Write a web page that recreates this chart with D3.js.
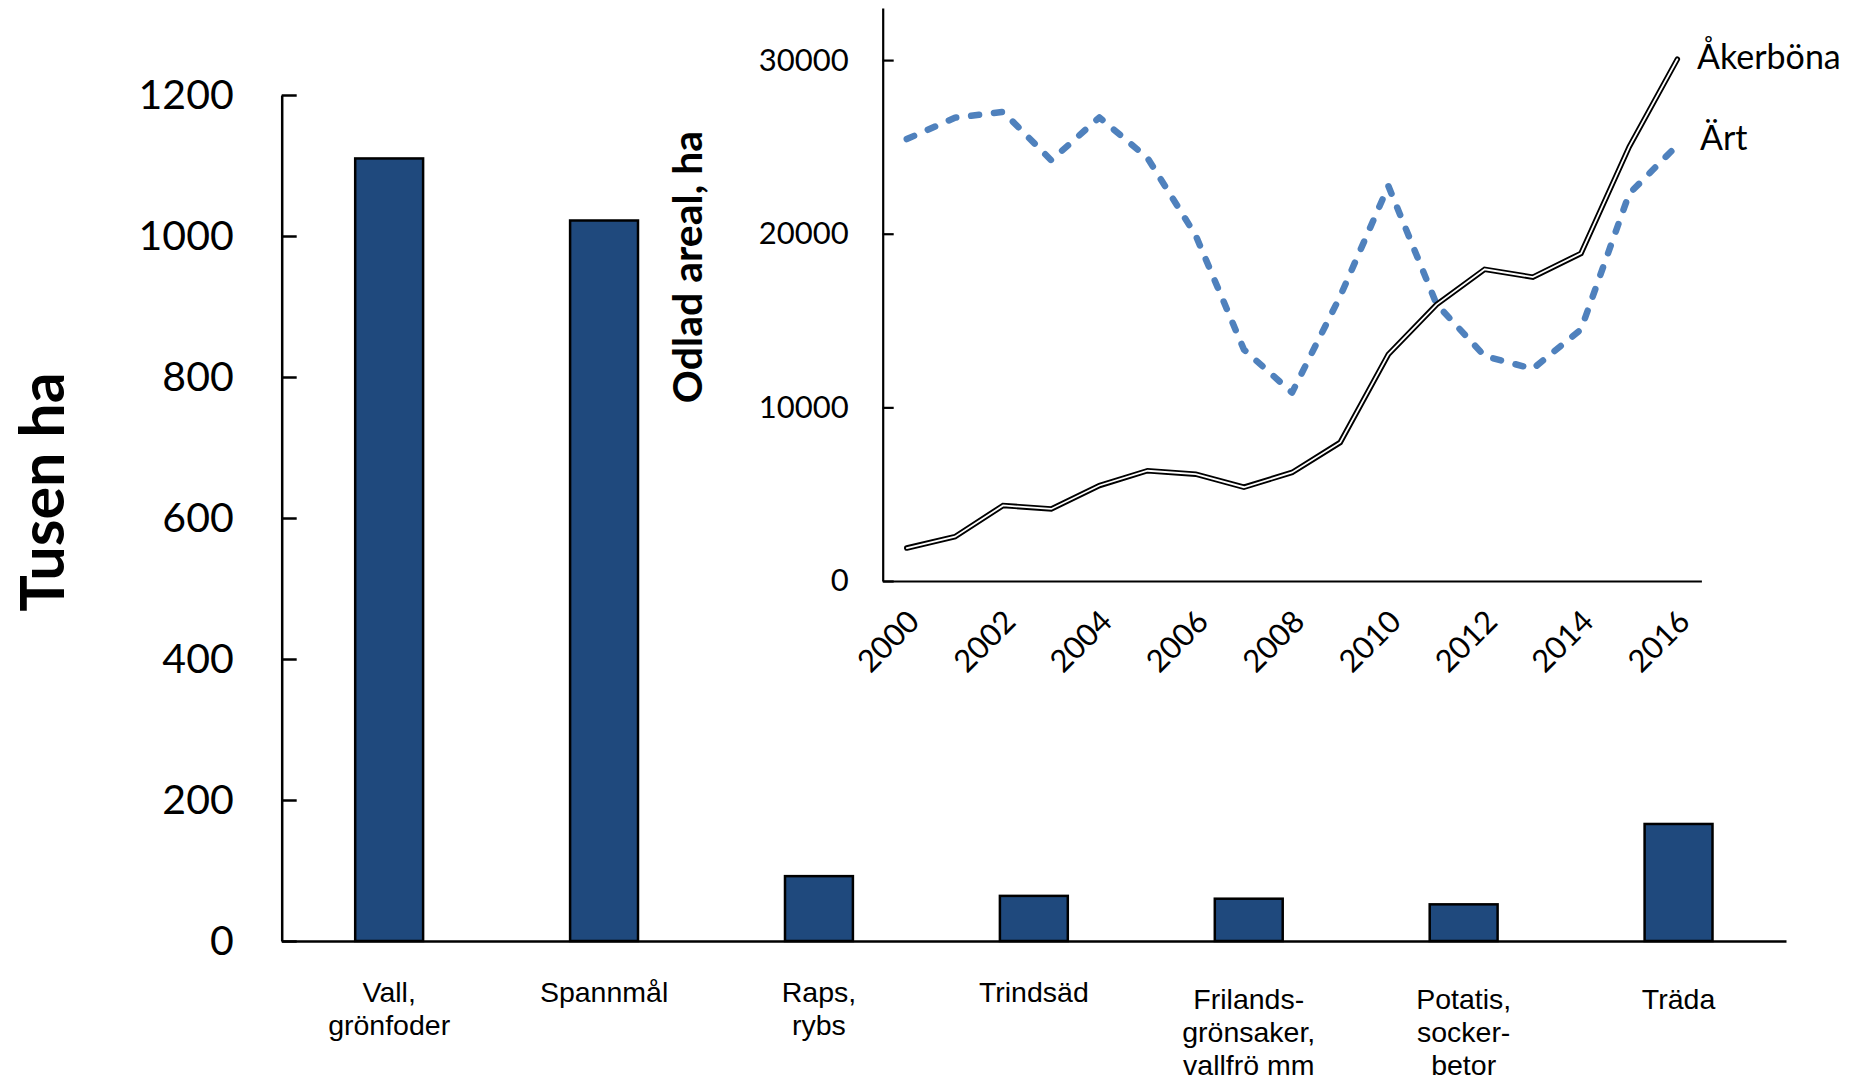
<!DOCTYPE html>
<html>
<head>
<meta charset="utf-8">
<script src="https://cdn.jsdelivr.net/npm/d3@7"></script>
<style>
  html, body { margin: 0; padding: 0; background: #ffffff; }
  svg { display: block; }
</style>
</head>
<body>
<svg id="chart" width="1858" height="1083"></svg>
<script>
// ---------- Data ----------
const categories = ["Vall,\ngrönfoder", "Spannmål", "Raps,\nrybs", "Trindsäd",
  "Frilands-\ngrönsaker,\nvallfrö mm", "Potatis,\nsocker-\nbetor", "Träda"];
const areaThousandHa = [1110, 1022, 92, 64, 60, 52, 166];
const mainTicks = [0, 200, 400, 600, 800, 1000, 1200];

const years = [2000, 2001, 2002, 2003, 2004, 2005, 2006, 2007, 2008, 2009,
  2010, 2011, 2012, 2013, 2014, 2015, 2016];
const akerbona = [1900, 2550, 4350, 4150, 5500, 6350, 6150, 5400, 6250, 7980,
  13050, 15920, 17950, 17500, 18870, 25000, 30050];
const art = [25450, 26680, 27020, 24230, 26700, 24360, 19900, 13330, 10850, 16400,
  22750, 15950, 12950, 12220, 14490, 22300, 25100];
const insetTicks = [0, 10000, 20000, 30000];
const yearLabels = [2000, 2002, 2004, 2006, 2008, 2010, 2012, 2014, 2016];
const seriesNames = ["Åkerböna", "Ärt"];

// ---------- Setup ----------
const svg = d3.select("#chart");
svg.append("rect").attr("width", 1858).attr("height", 1083).attr("fill", "#fff");

// ---------- Main bar chart ----------
const mainLeft = 281.7, mainRight = 1786, mainTop = 95, mainBottom = 941;
const xMain = d3.scaleBand().domain(categories).range([mainLeft, mainRight]).padding(0);
const yMain = d3.scaleLinear().domain([0, 1200]).range([mainBottom, mainTop]);
const barW = xMain.bandwidth() * 0.316;

const gMain = svg.append("g");

gMain.selectAll("rect.bar")
  .data(categories)
  .join("rect")
  .attr("class", "bar")
  .attr("x", d => xMain(d) + xMain.bandwidth() / 2 - barW / 2)
  .attr("y", (d, i) => yMain(areaThousandHa[i]))
  .attr("width", barW)
  .attr("height", (d, i) => yMain(0) - yMain(areaThousandHa[i]))
  .attr("fill", "#1F497D")
  .attr("stroke", "#000")
  .attr("stroke-width", 2.5);

// y axis
const yAxisMain = gMain.append("g")
  .attr("transform", `translate(${mainLeft},0)`)
  .call(d3.axisLeft(yMain).tickValues(mainTicks).tickSizeInner(-15).tickSizeOuter(0)
    .tickPadding(48).tickFormat(d3.format("d")));
yAxisMain.select(".domain").attr("stroke", "#000").attr("stroke-width", 2.5);
yAxisMain.selectAll(".tick line").attr("stroke", "#000").attr("stroke-width", 2.5);
yAxisMain.selectAll(".tick text")
  .attr("font-family", "Lato, sans-serif")
  .attr("font-size", 41)
  .attr("fill", "#000");

// x axis line
gMain.append("g")
  .attr("transform", `translate(0,${mainBottom})`)
  .call(d3.axisBottom(xMain).tickSize(0).tickFormat(""))
  .call(g => g.select(".domain").attr("stroke", "#000").attr("stroke-width", 2.5));

// category labels
const catLabels = gMain.selectAll("text.cat")
  .data(categories)
  .join("text")
  .attr("class", "cat")
  .attr("text-anchor", "middle")
  .attr("font-family", "'Liberation Sans', Arial, sans-serif")
  .attr("font-size", 28.5)
  .attr("fill", "#000")
  .attr("transform", (d, i) => `translate(${xMain(d) + xMain.bandwidth() / 2},${1002 + (i >= 4 ? 7 : 0)})`);
catLabels.each(function(d) {
  const lines = d.split("\n");
  d3.select(this).selectAll("tspan")
    .data(lines)
    .join("tspan")
    .attr("x", 0)
    .attr("y", (l, j) => j * 33)
    .text(l => l);
});

// main y-axis title
svg.append("text")
  .attr("transform", "translate(64,492) rotate(-90)")
  .attr("text-anchor", "middle")
  .attr("font-family", "Lato, sans-serif")
  .attr("font-weight", "bold")
  .attr("font-size", 61)
  .attr("fill", "#000")
  .text("Tusen ha");

// ---------- Inset line chart ----------
const inLeft = 882.7, inRight = 1701.4, inTop = 8, inBottom = 581;
const xIn = d3.scaleBand().domain(years).range([inLeft, inRight]).padding(0);
const yIn = d3.scaleLinear().domain([0, 33000]).range([inBottom, inTop]);
const cx = y => xIn(y) + xIn.bandwidth() / 2;

const gIn = svg.append("g");

const yAxisIn = gIn.append("g")
  .attr("transform", `translate(${inLeft},0)`)
  .call(d3.axisLeft(yIn).tickValues(insetTicks).tickSizeInner(-11).tickSizeOuter(0).tickPadding(34).tickFormat(d3.format("d")));
yAxisIn.select(".domain").attr("stroke", "#000").attr("stroke-width", 2.2);
yAxisIn.selectAll(".tick line").attr("stroke", "#000").attr("stroke-width", 2.2);
yAxisIn.selectAll(".tick text")
  .attr("font-family", "Lato, sans-serif")
  .attr("font-size", 31)
  .attr("fill", "#000");

const xAxisIn = gIn.append("g")
  .attr("transform", `translate(0,${inBottom})`)
  .call(d3.axisBottom(xIn).tickSize(0).tickFormat(""));
xAxisIn.select(".domain").attr("stroke", "#000").attr("stroke-width", 2.2);

gIn.selectAll("text.year")
  .data(yearLabels)
  .join("text")
  .attr("class", "year")
  .attr("text-anchor", "end")
  .attr("dominant-baseline", "central")
  .attr("font-family", "Lato, sans-serif")
  .attr("font-size", 31)
  .attr("fill", "#000")
  .attr("transform", d => `translate(${cx(d) + 6},${inBottom + 34}) rotate(-45)`)
  .text(d => d);

const line = d3.line().x(d => cx(d.year)).y(d => yIn(d.value));
const akerData = years.map((y, i) => ({ year: y, value: akerbona[i] }));
const artData = years.map((y, i) => ({ year: y, value: art[i] }));

gIn.append("path")
  .datum(artData)
  .attr("d", line)
  .attr("fill", "none")
  .attr("stroke", "#4F81BD")
  .attr("stroke-width", 6.5)
  .attr("stroke-linecap", "round")
  .attr("stroke-linejoin", "round")
  .attr("stroke-dasharray", "8,15");

gIn.append("path")
  .datum(akerData)
  .attr("d", line)
  .attr("fill", "none")
  .attr("stroke", "#000")
  .attr("stroke-width", 5.5)
  .attr("stroke-linecap", "round")
  .attr("stroke-linejoin", "miter");
gIn.append("path")
  .datum(akerData)
  .attr("d", line)
  .attr("fill", "none")
  .attr("stroke", "#fff")
  .attr("stroke-width", 1.8)
  .attr("stroke-linecap", "round")
  .attr("stroke-linejoin", "miter");

// series labels
gIn.append("text")
  .attr("x", 1697).attr("y", 69)
  .attr("font-family", "Lato, sans-serif")
  .attr("font-size", 34)
  .attr("fill", "#000")
  .text(seriesNames[0]);
gIn.append("text")
  .attr("x", 1700).attr("y", 150)
  .attr("font-family", "Lato, sans-serif")
  .attr("font-size", 34)
  .attr("fill", "#000")
  .text(seriesNames[1]);

// inset y-axis title
svg.append("text")
  .attr("transform", "translate(702,267) rotate(-90)")
  .attr("text-anchor", "middle")
  .attr("font-family", "Lato, sans-serif")
  .attr("font-weight", "bold")
  .attr("font-size", 41)
  .attr("fill", "#000")
  .text("Odlad areal, ha");
</script>
</body>
</html>
